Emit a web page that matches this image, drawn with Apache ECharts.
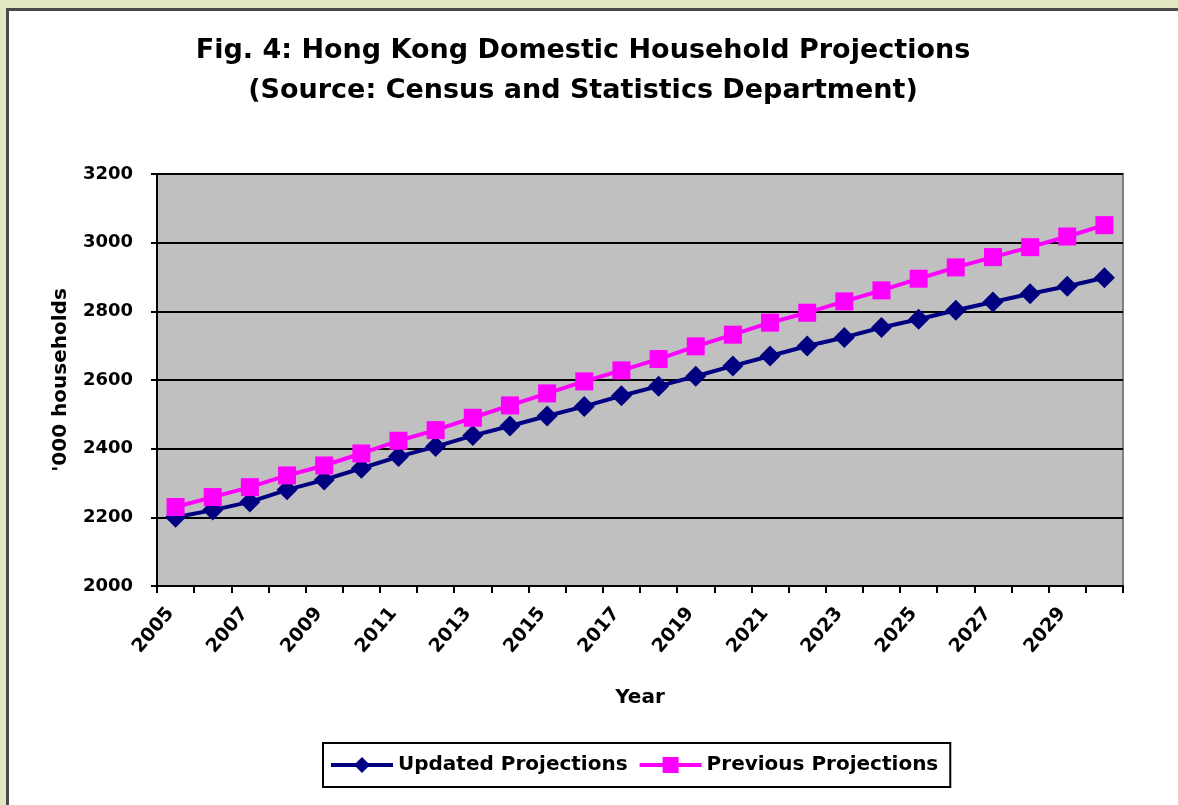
<!DOCTYPE html>
<html>
<head>
<meta charset="utf-8">
<script src="https://cdn.jsdelivr.net/npm/echarts@6/dist/echarts.min.js"></script>
<style>
html,body{margin:0;padding:0;width:1178px;height:805px;background:#e2e8c0;overflow:hidden;}
#panel{position:absolute;left:6px;top:8px;width:1172px;height:797px;background:#fff;border-left:3px solid #4a4a48;border-top:3px solid #4a4a48;box-sizing:border-box;}
#chart{position:absolute;left:0;top:0;width:1178px;height:805px;}
</style>
</head>
<body>
<div id="panel"></div>
<div id="chart"></div>
<script>
const years = ['2005','2006','2007','2008','2009','2010','2011','2012','2013','2014','2015','2016','2017','2018','2019','2020','2021','2022','2023','2024','2025','2026','2027','2028','2029','2030'];
const updatedProjections = [2200,2221,2245,2280,2309,2343,2377,2406,2438,2466,2495,2523,2554,2582,2611,2641,2670,2699,2724,2753,2777,2803,2827,2851,2873,2898];
const previousProjections = [2230,2259,2288,2322,2351,2386,2423,2454,2490,2526,2561,2596,2628,2661,2698,2732,2767,2796,2829,2861,2895,2928,2958,2987,3018,3051];

const font = '"DejaVu Sans", Arial, sans-serif';
const chart = echarts.init(document.getElementById('chart'), null, {renderer: 'canvas'});
chart.setOption({
  backgroundColor: 'transparent',
  animation: false,
  title: {
    text: 'Fig. 4: Hong Kong Domestic Household Projections\n(Source: Census and Statistics Department)',
    left: 578,
    textAlign: 'center',
    top: 26,
    textStyle: {fontFamily: font, fontWeight: 'bold', fontSize: 27, color: '#000', lineHeight: 40}
  },
  legend: {
    left: 323,
    top: 743,
    padding: [12, 12, 12, 6],
    itemGap: 10,
    itemWidth: 62,
    itemHeight: 20,
    borderColor: '#000',
    borderWidth: 2,
    backgroundColor: '#fff',
    lineStyle: {width: 4},
    textStyle: {fontFamily: font, fontWeight: 'bold', fontSize: 20, color: '#000'},
    data: ['Updated Projections', 'Previous Projections']
  },
  grid: {
    left: 157, right: 55, top: 174, bottom: 219,
    show: true,
    backgroundColor: '#c0c0c0',
    borderColor: '#808080',
    borderWidth: 2
  },
  xAxis: {
    type: 'category',
    data: years,
    boundaryGap: true,
    name: 'Year',
    nameLocation: 'middle',
    nameGap: 102,
    nameTextStyle: {fontFamily: font, fontWeight: 'bold', fontSize: 20, color: '#000'},
    axisLine: {lineStyle: {color: '#000', width: 2}},
    axisTick: {show: true, interval: 0, length: 7, lineStyle: {color: '#000', width: 2}},
    axisLabel: {interval: 1, rotate: 50, margin: 18, padding: [0, 8, 0, 0], fontFamily: font, fontWeight: 'bold', fontSize: 19, color: '#000'},
    splitLine: {show: false}
  },
  yAxis: {
    type: 'value',
    min: 2000, max: 3200, interval: 200,
    name: "'000 households",
    nameLocation: 'middle',
    nameGap: 86,
    nameTextStyle: {fontFamily: font, fontWeight: 'bold', fontSize: 20, color: '#000'},
    axisLine: {show: true, lineStyle: {color: '#000', width: 2}},
    axisTick: {show: true, length: 6, lineStyle: {color: '#000', width: 2}},
    axisLabel: {margin: 24, fontFamily: font, fontWeight: 'bold', fontSize: 18, color: '#000', formatter: function (v) { return String(v); }},
    splitLine: {show: true, lineStyle: {color: '#000', width: 2}}
  },
  series: [
    {
      name: 'Updated Projections',
      type: 'line',
      data: updatedProjections,
      symbol: 'diamond',
      symbolSize: 21,
      color: '#000080',
      lineStyle: {color: '#000080', width: 4},
      itemStyle: {color: '#000080'},
      z: 3
    },
    {
      name: 'Previous Projections',
      type: 'line',
      data: previousProjections,
      symbol: 'rect',
      symbolSize: 18,
      color: '#ff00ff',
      lineStyle: {color: '#ff00ff', width: 4},
      itemStyle: {color: '#ff00ff'},
      z: 4
    }
  ]
});
</script>
</body>
</html>
